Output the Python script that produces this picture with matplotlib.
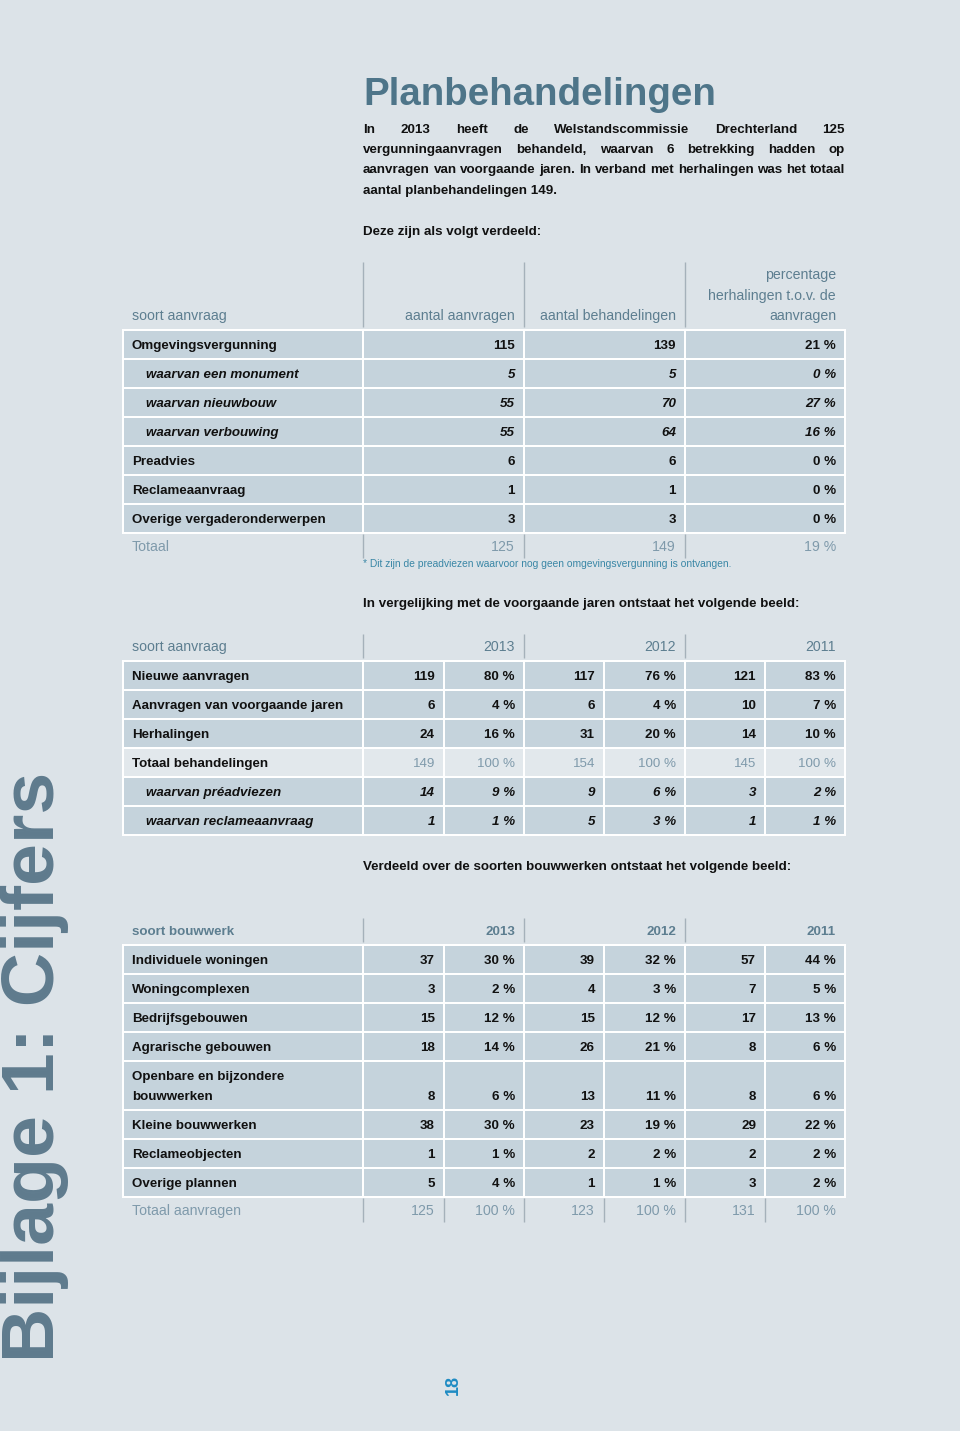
import matplotlib
matplotlib.use("Agg")
import matplotlib.pyplot as plt
from matplotlib.patches import Rectangle
from matplotlib import font_manager as fm

# ---------------- data ----------------
intro_lines = [
    "In 2013 heeft de Welstandscommissie Drechterland 125",
    "vergunningaanvragen behandeld, waarvan 6 betrekking hadden op",
    "aanvragen van voorgaande jaren. In verband met herhalingen was het totaal",
    "aantal planbehandelingen 149.",
]
intro_justified = [True, True, True, False]

t1_headers = ["soort aanvraag", "aantal aanvragen", "aantal behandelingen",
              "percentage\nherhalingen t.o.v. de\naanvragen"]
t1_labels = ["Omgevingsvergunning", "waarvan een monument", "waarvan nieuwbouw",
             "waarvan verbouwing", "Preadvies", "Reclameaanvraag",
             "Overige vergaderonderwerpen"]
t1_italic = [False, True, True, True, False, False, False]
t1_aanvragen = [115, 5, 55, 55, 6, 1, 3]
t1_behandelingen = [139, 5, 70, 64, 6, 1, 3]
t1_pct = [21, 0, 27, 16, 0, 0, 0]
t1_total = ["Totaal", 125, 149, 19]
t1_note = "* Dit zijn de preadviezen waarvoor nog geen omgevingsvergunning is ontvangen."

years = ["2013", "2012", "2011"]

t2_labels = ["Nieuwe aanvragen", "Aanvragen van voorgaande jaren", "Herhalingen",
             "Totaal behandelingen", "waarvan préadviezen", "waarvan reclameaanvraag"]
t2_italic = [False, False, False, False, True, True]
t2_count_2013 = [119, 6, 24, 149, 14, 1]
t2_pct_2013 = [80, 4, 16, 100, 9, 1]
t2_count_2012 = [117, 6, 31, 154, 9, 5]
t2_pct_2012 = [76, 4, 20, 100, 6, 3]
t2_count_2011 = [121, 10, 14, 145, 3, 1]
t2_pct_2011 = [83, 7, 10, 100, 2, 1]

t3_labels = ["Individuele woningen", "Woningcomplexen", "Bedrijfsgebouwen",
             "Agrarische gebouwen", "Openbare en bijzondere\nbouwwerken",
             "Kleine bouwwerken", "Reclameobjecten", "Overige plannen"]
t3_count_2013 = [37, 3, 15, 18, 8, 38, 1, 5]
t3_pct_2013 = [30, 2, 12, 14, 6, 30, 1, 4]
t3_count_2012 = [39, 4, 15, 26, 13, 23, 2, 1]
t3_pct_2012 = [32, 3, 12, 21, 11, 19, 2, 1]
t3_count_2011 = [57, 7, 17, 8, 8, 29, 2, 3]
t3_pct_2011 = [44, 5, 13, 6, 6, 22, 2, 2]
t3_total_counts = [125, 123, 131]
t3_total_pcts = [100, 100, 100]

# ---------------- style ----------------
BG = "#dce3e8"
CELL = "#c5d3dc"
LIGHTROW = "#e2e8ec"
HEAD = "#5d7e90"
TOT = "#7f9aab"
SEP = "#a5b1ba"
TITLE = "#4e7589"
SIDE = "#5f7b8d"
FOOT = "#3a87a6"
PAGE = "#1e8bc3"
INK = "#111111"


def has_font(name):
    try:
        fm.findfont(fm.FontProperties(family=name), fallback_to_default=False)
        return True
    except Exception:
        return False


if has_font("Liberation Sans Narrow"):
    NARROW = "Liberation Sans Narrow"
    NS = 1.0
else:
    NARROW = "Liberation Sans"
    NS = 0.835
WIDE = "Liberation Sans"

fig = plt.figure(figsize=(9.6, 14.31), dpi=100)
fig.patch.set_facecolor(BG)
ax = fig.add_axes([0, 0, 1, 1])
ax.set_xlim(0, 960)
ax.set_ylim(1431, 0)
ax.axis("off")
ax.set_facecolor(BG)


def cap(pt):
    return pt * 100 / 72 * 0.72


def T(x, yc, s, pt, family=NARROW, ha="left", weight="normal", style="normal",
      color=INK, **kw):
    return ax.text(x, yc + cap(pt) / 2, s, fontsize=pt, family=family, ha=ha,
                   va="baseline", weight=weight, style=style, color=color, **kw)


ROW_PT = 11.5 * NS
HEAD_PT = 12.2 * NS
HEAD3_PT = 11.5 * NS

# ---------------- title & intro ----------------
ax.text(363, 105, "Planbehandelingen", fontsize=27.7, family=WIDE, weight="bold",
        color=TITLE, ha="left", va="baseline")

PAR_PT = 9.65
renderer = fig.canvas.get_renderer()
par_y = [128, 148, 168, 189]
for line, just, y in zip(intro_lines, intro_justified, par_y):
    if just:
        words = line.split()
        ts = [T(0, y, w, PAR_PT, family=WIDE, weight="bold") for w in words]
        ws = [t.get_window_extent(renderer).width for t in ts]
        gap = (845 - 363 - sum(ws)) / (len(words) - 1)
        x = 363
        for t, w in zip(ts, ws):
            t.set_x(x)
            x += w + gap
    else:
        T(363, y, line, PAR_PT, family=WIDE, weight="bold")

T(363, 230, "Deze zijn als volgt verdeeld:", PAR_PT, family=WIDE, weight="bold")
T(363, 602, "In vergelijking met de voorgaande jaren ontstaat het volgende beeld:",
  PAR_PT, family=WIDE, weight="bold")
T(363, 865, "Verdeeld over de soorten bouwwerken ontstaat het volgende beeld:",
  PAR_PT, family=WIDE, weight="bold")


def block(x0, x1, tops, heights, dividers, colors=None):
    """Draw white grid + coloured cells."""
    top = tops[0]
    bot = tops[-1] + heights[-1]
    ax.add_patch(Rectangle((x0 - 1, top - 1), x1 - x0 + 2, bot - top + 2,
                           facecolor="white", edgecolor="none", zorder=1))
    edges = [x0] + dividers + [x1]
    for i, (t, h) in enumerate(zip(tops, heights)):
        c = CELL if colors is None else colors[i]
        for a, b in zip(edges[:-1], edges[1:]):
            ax.add_patch(Rectangle((a + 1, t + 1), b - a - 2, h - 2,
                                   facecolor=c, edgecolor="none", zorder=2))


def seps(xs, y0, y1):
    for x in xs:
        ax.plot([x, x], [y0, y1], color=SEP, lw=1.0, zorder=3,
                solid_capstyle="butt")


X0, X1 = 123, 845
PAD = 9

# ---------------- table 1 ----------------
t1_div = [363, 524, 685]
seps(t1_div, 262, 327)
T(132, 315, t1_headers[0], HEAD_PT, color=HEAD)
T(515, 315, t1_headers[1], HEAD_PT, color=HEAD, ha="right")
T(676, 315, t1_headers[2], HEAD_PT, color=HEAD, ha="right")
for k, ln in enumerate(t1_headers[3].split("\n")):
    T(836, 274 + k * 20.5, ln, HEAD_PT, color=HEAD, ha="right")

n1 = len(t1_labels)
tops1 = [329.5 + 29 * i for i in range(n1)]
block(X0, X1, tops1, [29] * n1, t1_div)
for i in range(n1):
    yc = tops1[i] + 14.5
    st = "italic" if t1_italic[i] else "normal"
    T(146 if t1_italic[i] else 132, yc, t1_labels[i], ROW_PT, weight="bold", style=st, zorder=4)
    T(515, yc, str(t1_aanvragen[i]), ROW_PT, weight="bold", style=st, ha="right", zorder=4)
    T(676, yc, str(t1_behandelingen[i]), ROW_PT, weight="bold", style=st, ha="right", zorder=4)
    T(836, yc, f"{t1_pct[i]} %", ROW_PT, weight="bold", style=st, ha="right", zorder=4)

seps(t1_div, 534, 558)
T(132, 546, t1_total[0], HEAD_PT, color=TOT)
T(515, 546, str(t1_total[1]), HEAD_PT, color=TOT, ha="right")
T(676, 546, str(t1_total[2]), HEAD_PT, color=TOT, ha="right")
T(836, 546, f"{t1_total[3]} %", HEAD_PT, color=TOT, ha="right")
T(363, 563, t1_note, 8.8 * NS, color=FOOT)

# ---------------- table 2 ----------------
t2_div = [363, 444, 524, 604, 685, 765]
seps([363, 524, 685], 634, 658)
T(132, 646, "soort aanvraag", HEAD_PT, color=HEAD)
for yr, xr in zip(years, [515, 676, 836]):
    T(xr, 646, yr, HEAD_PT, color=HEAD, ha="right")

n2 = len(t2_labels)
tops2 = [660.5 + 29 * i for i in range(n2)]
cols2 = [LIGHTROW if lab.startswith("Totaal") else CELL for lab in t2_labels]
block(X0, X1, tops2, [29] * n2, t2_div, cols2)
t2_counts = [t2_count_2013, t2_count_2012, t2_count_2011]
t2_pcts = [t2_pct_2013, t2_pct_2012, t2_pct_2011]
for i in range(n2):
    yc = tops2[i] + 14.5
    st = "italic" if t2_italic[i] else "normal"
    is_tot = t2_labels[i].startswith("Totaal")
    T(146 if t2_italic[i] else 132, yc, t2_labels[i], ROW_PT, weight="bold", style=st, zorder=4)
    for j in range(3):
        kw = dict(color=TOT, weight="normal") if is_tot else dict(weight="bold")
        T(t2_div[2 * j + 1] - PAD, yc, str(t2_counts[j][i]), ROW_PT, style=st,
          ha="right", zorder=4, **kw)
        T((t2_div + [X1])[2 * j + 2] - PAD, yc, f"{t2_pcts[j][i]} %", ROW_PT,
          style=st, ha="right", zorder=4, **kw)

# ---------------- table 3 ----------------
seps([363, 524, 685], 918, 942)
T(132, 930, "soort bouwwerk", HEAD3_PT, color=HEAD, weight="bold")
for yr, xr in zip(years, [515, 676, 836]):
    T(xr, 930, yr, HEAD3_PT, color=HEAD, ha="right", weight="bold")

n3 = len(t3_labels)
heights3 = [49 if "\n" in lab else 29 for lab in t3_labels]
tops3 = [944.5]
for h in heights3[:-1]:
    tops3.append(tops3[-1] + h)
block(X0, X1, tops3, heights3, t2_div)
t3_counts = [t3_count_2013, t3_count_2012, t3_count_2011]
t3_pcts = [t3_pct_2013, t3_pct_2012, t3_pct_2011]
for i in range(n3):
    lines = t3_labels[i].split("\n")
    ylast = tops3[i] + heights3[i] - 14.5
    for k, ln in enumerate(lines):
        T(132, ylast - (len(lines) - 1 - k) * 20, ln, ROW_PT, weight="bold", zorder=4)
    for j in range(3):
        T(t2_div[2 * j + 1] - PAD, ylast, str(t3_counts[j][i]), ROW_PT,
          weight="bold", ha="right", zorder=4)
        T((t2_div + [X1])[2 * j + 2] - PAD, ylast, f"{t3_pcts[j][i]} %", ROW_PT,
          weight="bold", ha="right", zorder=4)

seps(t2_div, 1198, 1222)
T(132, 1210, "Totaal aanvragen", HEAD_PT, color=TOT)
for j in range(3):
    T(t2_div[2 * j + 1] - PAD, 1210, str(t3_total_counts[j]), HEAD_PT, color=TOT, ha="right")
    T((t2_div + [X1])[2 * j + 2] - PAD, 1210, f"{t3_total_pcts[j]} %", HEAD_PT,
      color=TOT, ha="right")

# ---------------- side title & page number ----------------
ax.text(35, 1067, "Bijlage 1: Cijfers", fontsize=54.2, family=WIDE, weight="bold",
        color=SIDE, rotation=90, ha="center", va="center")
ax.text(453, 1385, "18", fontsize=13, family=WIDE, weight="bold", color=PAGE,
        rotation=90, ha="center", va="center")

fig.savefig("out.png", dpi=100, facecolor=BG)
